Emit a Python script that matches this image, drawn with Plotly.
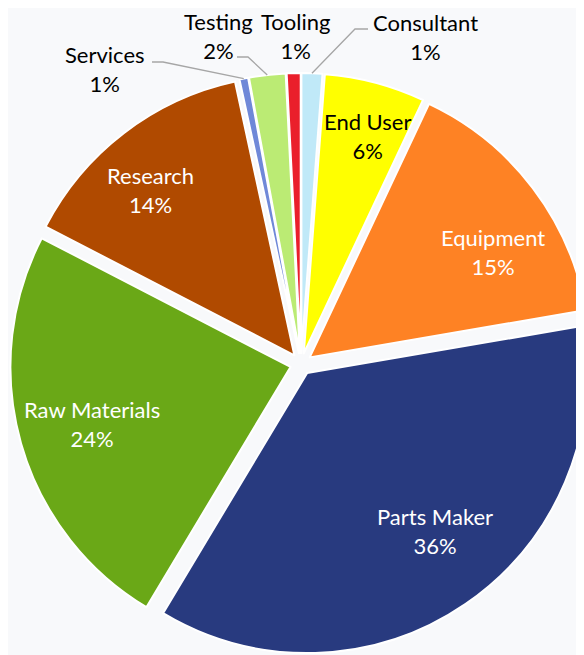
import math
import plotly.graph_objects as go

# ---- data ----
labels = ["Consultant", "End User", "Equipment", "Parts Maker", "Raw Materials",
          "Research", "Services", "Testing", "Tooling"]
shares = [1.2, 5.8, 15.3, 36.3, 24.0, 14.0, 0.5, 2.1, 0.8]
colors = ["#c0e9f8", "#ffff00", "#fe8224", "#283a7f", "#6aa817",
          "#b04a00", "#6f88d8", "#bbeb74", "#ea1f2b"]
label_font_colors = ["black", "black", "white", "white", "white",
                     "white", "black", "black", "black"]

# ---- layout constants ----
W, H = 584, 655
OFF = 8                      # page offset of the figure (body margin)
ML, MR, MT, MB = 2, 0, 57, 0
PULL = 0.039
FONT = "Lato, 'Open Sans', sans-serif"
FS = 22

# label centres (page pixels)
label_pos = {
    "Consultant": (425, 37), "End User": (367, 136), "Equipment": (493, 252),
    "Parts Maker": (435, 531), "Raw Materials": (92, 424), "Research": (150, 190),
    "Services": (105, 69), "Testing": (218, 36), "Tooling": (295, 36),
}
# leader-line start and elbow (page pixels); the end is the slice tip
leader_pts = {
    "Services": [(152, 62), (163, 62)],
    "Testing": [(237, 57), (248, 57)],
    "Consultant": [(368, 29), (355, 29)],
}

bw, bh = W - ML - MR, H - MT - MB
rad = min(bw, bh) / (2 + 2 * PULL)
cx, cy = ML + bw / 2, MT + bh / 2


def to_paper(px, py):
    fx, fy = px - OFF, py - OFF
    return (fx - ML) / bw, 1 - (fy - MT) / bh


total = sum(shares)
pct = [f"{math.floor(v / total * 100 + 0.5)}%" for v in shares]

fig = go.Figure(go.Pie(
    labels=labels,
    values=shares,
    sort=False,
    direction="clockwise",
    rotation=0,
    pull=PULL,
    marker=dict(colors=colors, line=dict(color="white", width=2)),
    textinfo="none",
    hoverinfo="label+percent",
    showlegend=False,
    automargin=False,
))

annotations, shapes = [], []
cum = 0.0
for l, v, p, fc in zip(labels, shares, pct, label_font_colors):
    mid = (cum + v / 2) / total * 2 * math.pi
    cum += v
    x, y = to_paper(*label_pos[l])
    annotations.append(dict(
        x=x, y=y, xref="paper", yref="paper", xanchor="center", yanchor="middle",
        text=f"{l}<br>{p}", showarrow=False,
        font=dict(family=FONT, size=FS, color=fc),
    ))
    if l in leader_pts:
        tip_fx = cx + rad * (1 + PULL) * math.sin(mid)
        tip_fy = cy - rad * (1 + PULL) * math.cos(mid)
        pts = [to_paper(*q) for q in leader_pts[l]]
        pts.append(((tip_fx - ML) / bw, 1 - (tip_fy - MT) / bh))
        path = "M " + " L ".join(f"{a:.5f},{b:.5f}" for a, b in pts)
        shapes.append(dict(type="path", xref="paper", yref="paper", path=path,
                           line=dict(color="#a6a6a6", width=1.3)))

fig.update_layout(
    width=W, height=H,
    margin=dict(l=ML, r=MR, t=MT, b=MB),
    paper_bgcolor="#f8f9fb",
    plot_bgcolor="#f8f9fb",
    annotations=annotations,
    shapes=shapes,
)

fig.write_html("out.html")
